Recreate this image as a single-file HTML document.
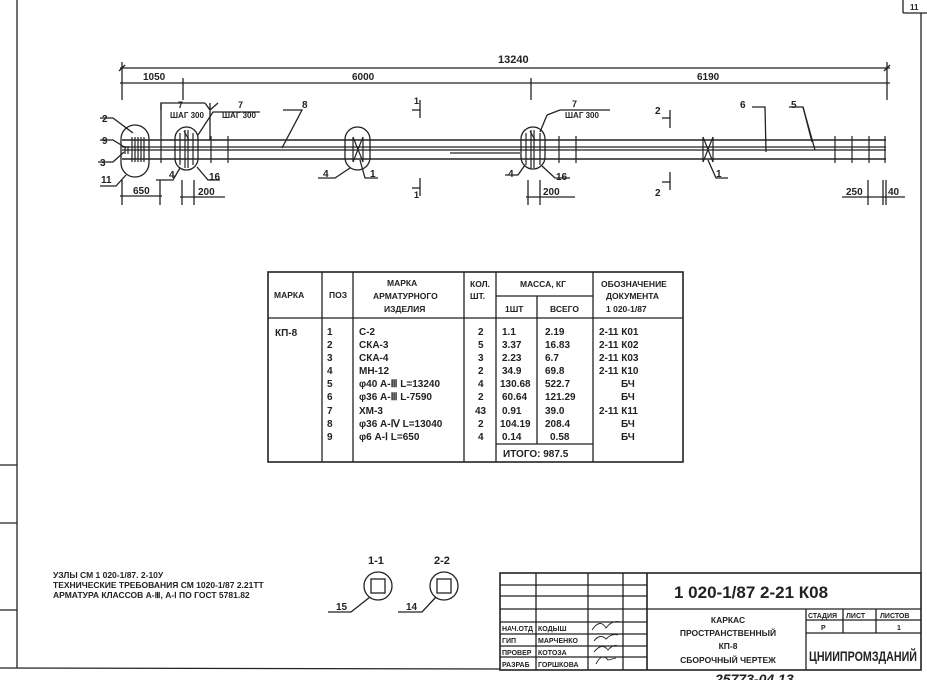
<!DOCTYPE html>
<html><head><meta charset="utf-8"><style>
html,body{margin:0;padding:0;background:#fff;}
svg{display:block;}
text{font-family:"Liberation Sans",sans-serif;fill:#222;font-weight:bold;}
</style></head><body>
<svg width="927" height="680" viewBox="0 0 927 680" xmlns="http://www.w3.org/2000/svg">
<g stroke="#222" stroke-width="1.3" fill="none">
<line x1="17" y1="0" x2="17" y2="668"/>
<line x1="0" y1="668" x2="500" y2="669"/>
<line x1="0" y1="465" x2="17" y2="465"/>
<line x1="0" y1="523" x2="17" y2="523"/>
<line x1="0" y1="610" x2="17" y2="610"/>
<line x1="903" y1="13" x2="927" y2="13"/>
<line x1="903" y1="0" x2="903" y2="13"/>
<line x1="921" y1="13" x2="921" y2="573"/>

<line x1="120" y1="68" x2="890" y2="68"/>
<line x1="120" y1="83" x2="890" y2="83"/>
<line x1="122" y1="62" x2="122" y2="100"/>
<line x1="183" y1="78" x2="183" y2="100"/>
<line x1="531" y1="78" x2="531" y2="100"/>
<line x1="887" y1="62" x2="887" y2="100"/>
<line x1="119" y1="71" x2="125" y2="65"/>
<line x1="884" y1="71" x2="890" y2="65"/>

<line x1="122" y1="140" x2="886" y2="140" stroke-width="1.6"/>
<line x1="122" y1="147" x2="886" y2="147"/>
<line x1="122" y1="150" x2="886" y2="150"/>
<line x1="122" y1="159" x2="886" y2="159" stroke-width="1.6"/>
<line x1="450" y1="153" x2="520" y2="153"/>
<g stroke-width="1.2">
<line x1="161" y1="136" x2="161" y2="163"/>
<line x1="211" y1="136" x2="211" y2="163"/>
<line x1="228" y1="136" x2="228" y2="163"/>
<line x1="559" y1="136" x2="559" y2="163"/>
<line x1="576" y1="136" x2="576" y2="163"/>
<line x1="835" y1="136" x2="835" y2="163"/>
<line x1="852" y1="136" x2="852" y2="163"/>
<line x1="869" y1="136" x2="869" y2="163"/>
<line x1="885" y1="136" x2="885" y2="163"/>
<line x1="703" y1="137" x2="703" y2="162"/>
<line x1="713" y1="137" x2="713" y2="162"/>
<line x1="703" y1="137" x2="713" y2="162"/>
<line x1="713" y1="137" x2="703" y2="162"/>
<line x1="353" y1="137" x2="353" y2="162"/>
<line x1="363" y1="137" x2="363" y2="162"/>
<line x1="353" y1="137" x2="363" y2="162"/>
<line x1="363" y1="137" x2="353" y2="162"/>
<line x1="132" y1="137" x2="132" y2="162"/>
<line x1="135" y1="137" x2="135" y2="162"/>
<line x1="138" y1="137" x2="138" y2="162"/>
<line x1="141" y1="137" x2="141" y2="162"/>
<line x1="144" y1="137" x2="144" y2="162"/>
<line x1="125" y1="146" x2="125" y2="154"/>
<line x1="128" y1="146" x2="128" y2="154"/>
<line x1="180" y1="133" x2="180" y2="165"/>
<line x1="193" y1="133" x2="193" y2="165"/>
<line x1="185" y1="130" x2="185" y2="168"/>
<line x1="188" y1="130" x2="188" y2="168"/>
<line x1="184" y1="131" x2="189" y2="140"/>
<line x1="526" y1="133" x2="526" y2="165"/>
<line x1="540" y1="133" x2="540" y2="165"/>
<line x1="531" y1="130" x2="531" y2="168"/>
<line x1="534" y1="130" x2="534" y2="168"/>
<line x1="530" y1="131" x2="535" y2="140"/>
</g>
<rect x="121" y="125" width="28" height="52" rx="14"/>
<rect x="175" y="127" width="23" height="43" rx="11.5"/>
<rect x="345" y="127" width="25" height="43" rx="12.5"/>
<rect x="521" y="127" width="24" height="42" rx="12"/>

<polyline points="100,118 113,118 133,133"/>
<polyline points="100,140 113,140 126,148"/>
<polyline points="98,162 113,162 124,152"/>
<polyline points="100,186 116,186 126,175"/>
<polyline points="161,110 161,103 205,103"/>
<line x1="161" y1="103" x2="161" y2="136"/>
<polyline points="218,103 210,110 205,103"/>
<polyline points="198,135 213,112 260,112"/>
<line x1="210" y1="103" x2="210" y2="140"/>
<polyline points="283,110 302,110 282,148"/>
<polyline points="156,180 173,180 180,168"/>
<polyline points="220,180 208,180 197,167"/>
<polyline points="318,178 335,178 350,168"/>
<polyline points="378,178 365,178 360,160"/>
<polyline points="547,115 560,110 610,110"/>
<polyline points="547,115 540,132"/>
<polyline points="505,175 518,175 525,165"/>
<polyline points="570,178 555,178 542,166"/>
<polyline points="728,178 716,178 708,160"/>
<polyline points="752,107 765,107 766,152"/>
<polyline points="789,107 803,107 815,150"/>
<line x1="803" y1="107" x2="812" y2="142"/>
<line x1="122" y1="180" x2="122" y2="205"/>
<line x1="160" y1="180" x2="160" y2="205"/>
<line x1="120" y1="196" x2="162" y2="196"/>
<line x1="182" y1="180" x2="182" y2="205"/>
<line x1="194" y1="180" x2="194" y2="205"/>
<line x1="180" y1="197" x2="225" y2="197"/>
<line x1="528" y1="180" x2="528" y2="205"/>
<line x1="540" y1="180" x2="540" y2="205"/>
<line x1="526" y1="197" x2="575" y2="197"/>
<line x1="868" y1="180" x2="868" y2="205"/>
<line x1="883" y1="180" x2="883" y2="205"/>
<line x1="886" y1="180" x2="886" y2="205"/>
<line x1="842" y1="197" x2="905" y2="197"/>
<line x1="420" y1="100" x2="420" y2="118"/>
<line x1="412" y1="110" x2="420" y2="110"/>
<line x1="420" y1="178" x2="420" y2="196"/>
<line x1="412" y1="188" x2="420" y2="188"/>
<line x1="670" y1="110" x2="670" y2="128"/>
<line x1="662" y1="118" x2="670" y2="118"/>
<line x1="670" y1="172" x2="670" y2="190"/>
<line x1="662" y1="182" x2="670" y2="182"/>

<rect x="268" y="272" width="415" height="190" stroke-width="1.6"/>
<line x1="268" y1="318" x2="683" y2="318"/>
<line x1="322" y1="272" x2="322" y2="462"/>
<line x1="353" y1="272" x2="353" y2="462"/>
<line x1="464" y1="272" x2="464" y2="462"/>
<line x1="496" y1="272" x2="496" y2="462"/>
<line x1="593" y1="272" x2="593" y2="462"/>
<line x1="537" y1="296" x2="537" y2="444"/>
<line x1="496" y1="296" x2="593" y2="296"/>
<line x1="496" y1="444" x2="593" y2="444"/>

<circle cx="378" cy="586" r="14"/>
<rect x="371" y="579" width="14" height="14"/>
<circle cx="444" cy="586" r="14"/>
<rect x="437" y="579" width="14" height="14"/>
<polyline points="328,612 351,612 370,597"/>
<polyline points="398,612 422,612 436,597"/>

<rect x="500" y="573" width="421" height="97" stroke-width="1.6"/>
<line x1="536" y1="573" x2="536" y2="670"/>
<line x1="588" y1="573" x2="588" y2="670"/>
<line x1="623" y1="573" x2="623" y2="670"/>
<line x1="647" y1="573" x2="647" y2="670" stroke-width="1.6"/>
<line x1="500" y1="585" x2="647" y2="585"/>
<line x1="500" y1="596" x2="647" y2="596"/>
<line x1="500" y1="609" x2="921" y2="609"/>
<line x1="500" y1="622" x2="647" y2="622"/>
<line x1="500" y1="634" x2="647" y2="634"/>
<line x1="500" y1="646" x2="647" y2="646"/>
<line x1="500" y1="657" x2="647" y2="657"/>
<line x1="806" y1="609" x2="806" y2="670"/>
<line x1="806" y1="620" x2="921" y2="620"/>
<line x1="806" y1="633" x2="921" y2="633"/>
<line x1="843" y1="609" x2="843" y2="633"/>
<line x1="876" y1="609" x2="876" y2="633"/>
<path d="M592,630 q8,-12 14,-2 q6,-8 14,-6 M594,641 q6,-8 12,-2 q6,-6 12,-4 M594,652 q8,-10 14,-2 q5,-6 10,-4 M596,664 q6,-12 12,-4 l8,-2" stroke-width="0.9"/>
</g>

<g font-size="10">
<text x="498" y="63" font-size="11">13240</text>
<text x="143" y="80">1050</text>
<text x="352" y="80">6000</text>
<text x="697" y="80">6190</text>
<text x="102" y="122">2</text>
<text x="102" y="144">9</text>
<text x="100" y="166">3</text>
<text x="101" y="183">11</text>
<text x="178" y="108" font-size="9">7</text>
<text x="170" y="118" font-size="8">ШАГ 300</text>
<text x="238" y="108" font-size="9">7</text>
<text x="222" y="118" font-size="8">ШАГ 300</text>
<text x="302" y="108">8</text>
<text x="169" y="178">4</text>
<text x="209" y="180">16</text>
<text x="133" y="194">650</text>
<text x="198" y="195">200</text>
<text x="323" y="177">4</text>
<text x="370" y="177">1</text>
<text x="414" y="104" font-size="9">1</text>
<text x="414" y="198" font-size="9">1</text>
<text x="572" y="107" font-size="9">7</text>
<text x="565" y="118" font-size="8">ШАГ 300</text>
<text x="508" y="177">4</text>
<text x="556" y="180">16</text>
<text x="543" y="195">200</text>
<text x="655" y="114">2</text>
<text x="655" y="196">2</text>
<text x="716" y="177">1</text>
<text x="740" y="108">6</text>
<text x="791" y="108">5</text>
<text x="846" y="195">250</text>
<text x="888" y="195">40</text>

<g font-size="8.5">
<text x="274" y="298">МАРКА</text>
<text x="329" y="298">ПОЗ</text>
<text x="387" y="286">МАРКА</text>
<text x="373" y="299">АРМАТУРНОГО</text>
<text x="384" y="312">ИЗДЕЛИЯ</text>
<text x="470" y="287">КОЛ.</text>
<text x="470" y="299">ШТ.</text>
<text x="520" y="287">МАССА, КГ</text>
<text x="505" y="312">1ШТ</text>
<text x="550" y="312">ВСЕГО</text>
<text x="601" y="287">ОБОЗНАЧЕНИЕ</text>
<text x="606" y="299">ДОКУМЕНТА</text>
<text x="606" y="312">1 020-1/87</text>
</g>
<g font-size="10">
<text x="275" y="336">КП-8</text>
<text x="327" y="335">1</text><text x="327" y="348">2</text><text x="327" y="361">3</text><text x="327" y="374">4</text><text x="327" y="387">5</text><text x="327" y="400">6</text><text x="327" y="414">7</text><text x="327" y="427">8</text><text x="327" y="440">9</text>
<text x="359" y="335">С-2</text><text x="359" y="348">СКА-3</text><text x="359" y="361">СКА-4</text><text x="359" y="374">МН-12</text><text x="359" y="387">φ40 А-Ⅲ L=13240</text><text x="359" y="400">φ36 А-Ⅲ L-7590</text><text x="359" y="414">ХМ-3</text><text x="359" y="427">φ36 А-Ⅳ L=13040</text><text x="359" y="440">φ6 А-Ⅰ L=650</text>
<text x="478" y="335">2</text><text x="478" y="348">5</text><text x="478" y="361">3</text><text x="478" y="374">2</text><text x="478" y="387">4</text><text x="478" y="400">2</text><text x="475" y="414">43</text><text x="478" y="427">2</text><text x="478" y="440">4</text>
<text x="502" y="335">1.1</text><text x="502" y="348">3.37</text><text x="502" y="361">2.23</text><text x="502" y="374">34.9</text><text x="500" y="387">130.68</text><text x="502" y="400">60.64</text><text x="502" y="414">0.91</text><text x="500" y="427">104.19</text><text x="502" y="440">0.14</text>
<text x="545" y="335">2.19</text><text x="545" y="348">16.83</text><text x="545" y="361">6.7</text><text x="545" y="374">69.8</text><text x="545" y="387">522.7</text><text x="545" y="400">121.29</text><text x="545" y="414">39.0</text><text x="545" y="427">208.4</text><text x="550" y="440">0.58</text>
<text x="503" y="457">ИТОГО: 987.5</text>
<text x="599" y="335">2-11 К01</text><text x="599" y="348">2-11 К02</text><text x="599" y="361">2-11 К03</text><text x="599" y="374">2-11 К10</text><text x="621" y="387">БЧ</text><text x="621" y="400">БЧ</text><text x="599" y="414">2-11 К11</text><text x="621" y="427">БЧ</text><text x="621" y="440">БЧ</text>
</g>

<g font-size="8.5">
<text x="53" y="578">УЗЛЫ СМ 1 020-1/87. 2-10У</text>
<text x="53" y="588">ТЕХНИЧЕСКИЕ ТРЕБОВАНИЯ СМ 1020-1/87 2.21ТТ</text>
<text x="53" y="598">АРМАТУРА КЛАССОВ А-Ⅲ, А-Ⅰ ПО ГОСТ 5781.82</text>
</g>
<text x="368" y="564" font-size="11">1-1</text>
<text x="434" y="564" font-size="11">2-2</text>
<text x="336" y="610">15</text>
<text x="406" y="610">14</text>

<g font-size="7">
<text x="502" y="631">НАЧ.ОТД</text><text x="538" y="631">КОДЫШ</text>
<text x="502" y="643">ГИП</text><text x="538" y="643">МАРЧЕНКО</text>
<text x="502" y="655">ПРОВЕР</text><text x="538" y="655">КОТОЗА</text>
<text x="502" y="667">РАЗРАБ</text><text x="538" y="667">ГОРШКОВА</text>
<text x="808" y="618">СТАДИЯ</text><text x="846" y="618">ЛИСТ</text><text x="880" y="618">ЛИСТОВ</text>
<text x="821" y="630">Р</text><text x="897" y="630">1</text>
</g>
<text x="674" y="598" font-size="17" font-weight="normal">1 020-1/87  2-21  К08</text>
<g font-size="8.5" text-anchor="middle">
<text x="728" y="623">КАРКАС</text>
<text x="728" y="636">ПРОСТРАНСТВЕННЫЙ</text>
<text x="728" y="649">КП-8</text>
<text x="728" y="663">СБОРОЧНЫЙ ЧЕРТЕЖ</text>
</g>
<text x="809" y="661" font-size="14" font-weight="normal" textLength="108" lengthAdjust="spacingAndGlyphs">ЦНИИПРОМЗДАНИЙ</text>
<text x="715" y="684" font-size="14" font-style="italic" font-weight="normal">25773-04    13</text>
<text x="910" y="10" font-size="8">11</text>
</g>
</svg>
</body></html>
